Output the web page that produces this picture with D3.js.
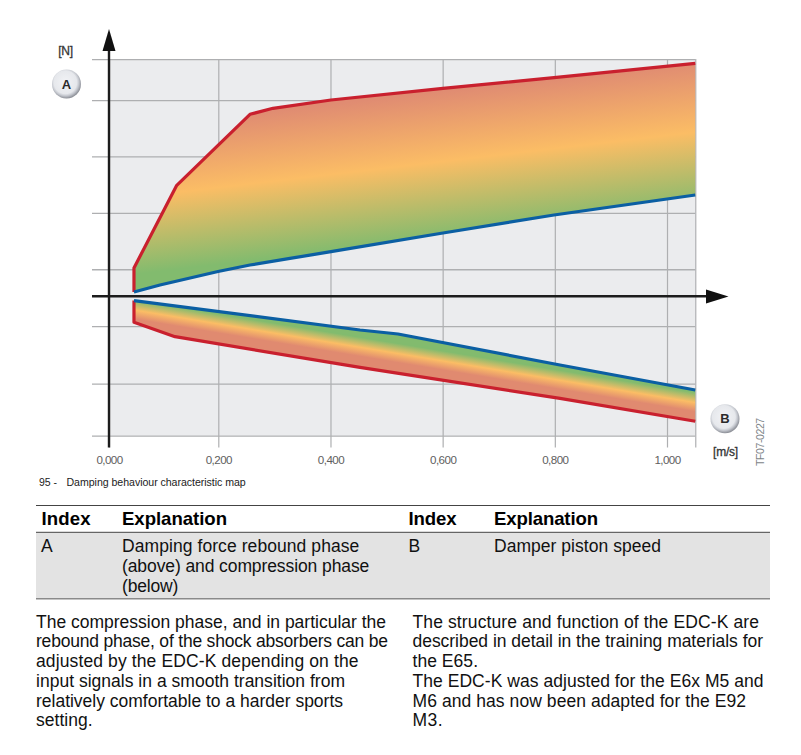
<!DOCTYPE html>
<html><head><meta charset="utf-8">
<style>html,body{margin:0;padding:0;background:#fff}svg{display:block}text{font-family:"Liberation Sans",Arial,sans-serif}</style>
<script src="https://cdn.jsdelivr.net/npm/d3@7"></script></head>
<body><svg id="c" width="801" height="755"></svg>
<script>
const xTicks=[0,0.2,0.4,0.6,0.8,1.0,1.0504];
const yTicks=[-2.47,-1.55,-0.53,0.48,1.48,2.48,3.48,4.207];
const reboundHardX=[0.0457,0.0457,0.1235,0.2565,0.2975,0.4009,0.6006,0.7985,1.0504];
const reboundHardY=[0.076,0.502,1.961,3.227,3.333,3.480,3.688,3.876,4.131];
const reboundSoftX=[0.0457,0.0933,0.1995,0.2565,0.3278,0.4009,0.6006,0.7985,1.0504];
const reboundSoftY=[0.076,0.2,0.44,0.555,0.672,0.791,1.122,1.441,1.796];
const compSoftX=[0.0457,0.4526,0.5204,0.8092,1.0504];
const compSoftY=[-0.076,-0.598,-0.668,-1.218,-1.661];
const compHardX=[0.0457,0.0457,0.1208,0.4526,0.8092,1.0504];
const compHardY=[-0.076,-0.461,-0.716,-1.259,-1.809,-2.216];
const tableHeads=["Index","Explanation","Index","Explanation"];
const rowA=["Damping force rebound phase","(above) and compression phase","(below)"];
const rowB=["Damper piston speed"];
const paraLeft=["The compression phase, and in particular the","rebound phase, of the shock absorbers can be","adjusted by the EDC-K depending on the","input signals in a smooth transition from","relatively comfortable to a harder sports","setting."];
const paraRight=["The structure and function of the EDC-K are","described in detail in the training materials for","the E65.","The EDC-K was adjusted for the E6x M5 and","M6 and has now been adapted for the E92","M3."];

const svg=d3.select("#c");
const x=d3.scaleLinear().domain([0,0.2,1.0]).range([109,218.3,667]);
const y=d3.scaleLinear().domain([0,1]).range([296.3,239.9]);
const zip=(a,b)=>a.map((v,i)=>[v,b[i]]);
const line=d3.line().x(d=>x(d[0])).y(d=>y(d[1]));
const defs=svg.append("defs");

function tilted(id,cx,cy,slope,before,after,stops){
  const L=Math.hypot(1,slope),nx=-slope/L,ny=1/L,c=1/L;
  const g=defs.append("linearGradient").attr("id",id).attr("gradientUnits","userSpaceOnUse")
    .attr("x1",cx-nx*before*c).attr("y1",cy-ny*before*c)
    .attr("x2",cx+nx*after*c).attr("y2",cy+ny*after*c);
  stops.forEach(s=>g.append("stop").attr("offset",s[0]).attr("stop-color",s[1]));
}
tilted("gu",415,164.7,-0.116,70,77,[[0,"#e08c72"],[70/147,"#fbbd65"],[1,"#82bb6e"]]);
tilted("gl",425,358,0.165,10,9,[[0,"#82bb6e"],[10/19,"#fbbd65"],[1,"#e08a70"]]);
const bg=defs.append("radialGradient").attr("id","bd").attr("cx","46%").attr("cy","44%").attr("r","58%");
[[0,"#f2f3f6"],[0.68,"#e6e8ec"],[0.8,"#c6c9d0"],[1,"#7f828a"]].forEach(s=>bg.append("stop").attr("offset",s[0]).attr("stop-color",s[1]));

// plot background
svg.append("rect").attr("x",x(0)).attr("y",y(4.207)).attr("width",x(1.0504)-x(0)).attr("height",y(-2.47)-y(4.207)).attr("fill","#ebecee");

// grid through axes
const gx=svg.append("g").attr("transform","translate(0,447.5)")
  .call(d3.axisBottom(x).tickValues(xTicks).tickSize(-388.5).tickPadding(8)
    .tickFormat(d=>d>1?"":d3.format(".3f")(d).replace(".",",")));
gx.select(".domain").remove();
gx.selectAll("line").attr("stroke","#aeafb1").attr("stroke-width",1.2);
gx.selectAll("text").attr("font-size",11.6).attr("letter-spacing",-0.55).attr("fill","#5e5e5e").attr("font-family","Liberation Sans");
const gy=svg.append("g").attr("transform","translate(92,0)")
  .call(d3.axisLeft(y).tickValues(yTicks).tickSize(-(x(1.0504)-92)).tickFormat(""));
gy.select(".domain").remove();
gy.selectAll("line").attr("stroke","#aeafb1").attr("stroke-width",1.3);

// bands
function band(topX,topY,botX,botY,fill){
  const pts=zip(topX,topY).concat(zip(botX,botY).reverse());
  svg.append("path").attr("d",line(pts)+"Z").attr("fill",fill);
}
band(reboundHardX,reboundHardY,reboundSoftX,reboundSoftY,"url(#gu)");
band(compSoftX,compSoftY,compHardX,compHardY,"url(#gl)");
const draw=(a,b,c)=>svg.append("path").attr("d",line(zip(a,b))).attr("fill","none").attr("stroke",c).attr("stroke-width",3.2).attr("stroke-linejoin","round");
draw(reboundHardX,reboundHardY,"#c9202e");
draw(compHardX,compHardY,"#c9202e");
draw(reboundSoftX,reboundSoftY,"#0b5fa3");
draw(compSoftX,compSoftY,"#0b5fa3");

// main axes
svg.append("line").attr("x1",92).attr("x2",708).attr("y1",y(0)).attr("y2",y(0)).attr("stroke","#1c1c1c").attr("stroke-width",2.4);
svg.append("line").attr("x1",x(0)).attr("x2",x(0)).attr("y1",50).attr("y2",447.5).attr("stroke","#1c1c1c").attr("stroke-width",2.4);
svg.append("path").attr("d","M109 29L102.5 51L115.5 51Z").attr("fill","#111");
svg.append("path").attr("d","M728.5 296.5L706 289.5L706 303.5Z").attr("fill","#111");

// badges & labels
function badge(cx,cy,t){
  svg.append("circle").attr("cx",cx).attr("cy",cy).attr("r",14.5).attr("fill","url(#bd)");
  svg.append("text").attr("x",cx).attr("y",cy+4.7).attr("text-anchor","middle").attr("font-size",13).attr("font-weight","bold").attr("fill","#2a2a2a").text(t);
}
badge(66.5,84,"A");
badge(725,418.7,"B");
const lab=(px,py,t,o={})=>{
  const n=svg.append("text").attr("x",px).attr("y",py).attr("font-size",o.s||17.5).attr("font-weight",o.b?"bold":"normal")
    .attr("fill",o.c||"#111").attr("text-anchor",o.a||"start").attr("letter-spacing",o.ls||0).text(t);
  if(o.end) n.attr("textLength",o.end-px).attr("lengthAdjust","spacing");
  if(o.st) n.attr("stroke",o.c||"#111").attr("stroke-width",o.st);
  return n;
};
lab(65.5,55,"[N]",{s:12,c:"#333",a:"middle",st:0.3,ls:-0.2});
lab(725.5,455.5,"[m/s]",{s:12,c:"#333",a:"middle",st:0.3,ls:-0.2});
svg.append("text").attr("transform","translate(764,466) rotate(-90)").attr("font-size",10.5).attr("letter-spacing",-0.4).attr("fill","#7d8488").text("TF07-0227");
lab(39,485.7,"95 -",{s:10.5,c:"#222"});
lab(66.5,485.7,"Damping behaviour characteristic map",{s:10.6,c:"#222",end:245.7});

// table
svg.append("rect").attr("x",36).attr("y",532.5).attr("width",734).attr("height",66).attr("fill","#e3e3e3");
[[505.5,"#444",1],[532.3,"#444",1],[598.8,"#8a8a8a",1.6]].forEach(r=>
  svg.append("line").attr("x1",36).attr("x2",770).attr("y1",r[0]).attr("y2",r[0]).attr("stroke",r[1]).attr("stroke-width",r[2]));
const headEnds=[90.7,227,456.7,598];
[41.5,122,408.5,494].forEach((px,i)=>lab(px,525,tableHeads[i],{b:1,c:"#000",s:18.6,end:headEnds[i]}));
lab(41,551.7,"A"); lab(408.5,551.7,"B");
const rowAEnds=[359.3,369.3,178.3], rowBEnds=[661];
const leftEnds=[386,388,358.5,345,343,92.7], rightEnds=[759,763,478,763.5,746,442.7];
rowA.forEach((t,i)=>lab(122,551.7+i*20,t,{end:rowAEnds[i]}));
rowB.forEach((t,i)=>lab(494,551.7+i*20,t,{end:rowBEnds[i]}));
paraLeft.forEach((t,i)=>lab(36,627.7+i*19.75,t,{end:leftEnds[i]}));
paraRight.forEach((t,i)=>lab(412.5,627.7+i*19.75,t,{end:rightEnds[i]}));
</script></body></html>
